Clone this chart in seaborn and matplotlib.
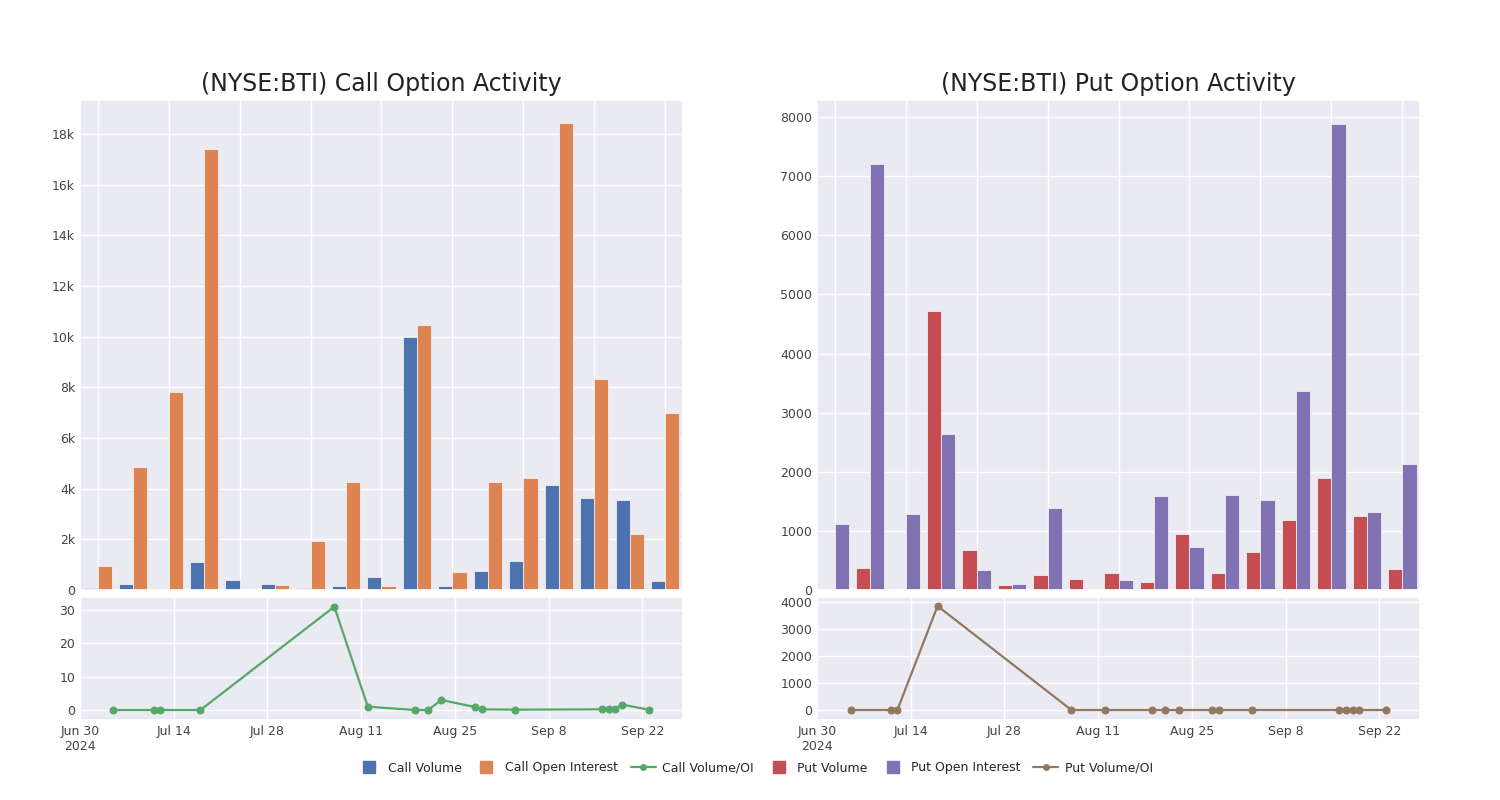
import matplotlib
matplotlib.use("Agg")
import matplotlib.pyplot as plt
from matplotlib.lines import Line2D
from matplotlib.ticker import FuncFormatter
import pandas as pd
import seaborn as sns

# 17 trading days shown in both panels
dates = ["2024-07-05", "2024-07-11", "2024-07-12", "2024-07-18", "2024-08-07",
         "2024-08-12", "2024-08-19", "2024-08-21", "2024-08-23", "2024-08-28",
         "2024-08-29", "2024-09-03", "2024-09-16", "2024-09-17", "2024-09-18",
         "2024-09-19", "2024-09-23"]

call_volume = [80, 250, 20, 1100, 380, 220, 90, 160, 500, 10000,
               170, 750, 1150, 4150, 3650, 3550, 370]
call_oi = [950, 4870, 7820, 17420, 20, 200, 1930, 4270, 150, 10460,
           720, 4250, 4410, 18420, 8320, 2220, 6980]
call_ratio = [0, 0, 0, 0, 31, 1.0, 0, 0, 3.0, 0.9, 0.2, 0.1, 0.2, 0.2, 0.4, 1.6, 0.1]

put_volume = [20, 380, 0, 4720, 680, 80, 250, 190, 290, 140,
              940, 290, 650, 1180, 1900, 1260, 350]
put_oi = [1120, 7210, 1280, 2640, 340, 100, 1390, 20, 170, 1590,
          730, 1600, 1530, 3360, 7890, 1320, 2140]
put_ratio = [0, 0, 0, 3850, 0, 0, 0, 0, 0, 0, 0, 0, 0, 0, 0, 0, 0]

date_ticks = ["2024-06-30", "2024-07-14", "2024-07-28", "2024-08-11",
              "2024-08-25", "2024-09-08", "2024-09-22"]
date_tick_labels = ["Jun 30\n2024", "Jul 14", "Jul 28", "Aug 11", "Aug 25", "Sep 8", "Sep 22"]

C_VOL, C_OI, C_RATIO = "#4C72B0", "#DD8452", "#55A868"
P_VOL, P_OI, P_RATIO = "#C44E52", "#8172B3", "#937860"

sns.set_theme(style="darkgrid")
plt.rcParams["font.family"] = ["DejaVu Sans"]

fig = plt.figure(figsize=(15, 8), dpi=100)


def bar_panel(left, vol, oi, labels, colors, ymax, yticks, title, kfmt):
    ax = fig.add_axes([left, 0.2625, 0.402, 0.6125])
    n = len(dates)
    df = pd.DataFrame({
        "day": [str(i) for i in range(n)] * 2,
        "value": vol + oi,
        "series": [labels[0]] * n + [labels[1]] * n,
    })
    sns.barplot(data=df, x="day", y="value", hue="series", palette=colors, saturation=1,
                width=0.8, edgecolor="#f4eeee", linewidth=0.6, ax=ax, legend=False)
    ax.set_xlim(-0.5, n - 0.5)
    ax.set_ylim(0, ymax)
    ax.set_yticks(yticks)
    ax.set_xticks(range(0, n, 2))
    ax.set_xticklabels([])
    ax.xaxis.grid(True)
    ax.yaxis.grid(True)
    ax.set_axisbelow(True)
    ax.tick_params(axis="x", length=0)
    ax.set_xlabel("")
    ax.set_ylabel("")
    ax.tick_params(axis="y", labelsize=9, colors="#444444", length=0)
    if kfmt:
        ax.yaxis.set_major_formatter(FuncFormatter(lambda v, _: f"{int(v / 1000)}k" if v else "0"))
    fig.text(left + 0.201, 1 - 84 / 800, title, ha="center", va="center",
             fontsize=17, color="#222222")
    return ax


def ratio_panel(left, ratio, color, ylim, yticks):
    ax = fig.add_axes([left, 0.1, 0.402, 0.15375])
    sns.lineplot(x=pd.to_datetime(dates), y=ratio, color=color, marker="o",
                 markersize=5, markeredgecolor=color, linewidth=1.6, ax=ax)
    ax.set_xlim(pd.Timestamp("2024-06-30"), pd.Timestamp("2024-09-28 02:00"))
    ax.set_ylim(*ylim)
    ax.set_yticks(yticks)
    ax.set_xticks(pd.to_datetime(date_ticks))
    ax.set_xticklabels(date_tick_labels)
    ax.set_xlabel("")
    ax.set_ylabel("")
    ax.tick_params(labelsize=9, colors="#444444", length=0)
    return ax


bar_panel(0.0533, call_volume, call_oi, ["Call Volume", "Call Open Interest"],
          [C_VOL, C_OI], 19340, range(0, 18001, 2000), "(NYSE:BTI) Call Option Activity", True)
bar_panel(0.5447, put_volume, put_oi, ["Put Volume", "Put Open Interest"],
          [P_VOL, P_OI], 8290, range(0, 8001, 1000), "(NYSE:BTI) Put Option Activity", False)
ratio_panel(0.0533, call_ratio, C_RATIO, (-3, 33.9), [0, 10, 20, 30])
ratio_panel(0.5447, put_ratio, P_RATIO, (-370, 4185), [0, 1000, 2000, 3000, 4000])

handles = [
    Line2D([], [], marker="s", linestyle="none", color=C_VOL, markersize=8, label="Call Volume"),
    Line2D([], [], marker="s", linestyle="none", color=C_OI, markersize=8, label="Call Open Interest"),
    Line2D([], [], marker="o", color=C_RATIO, markersize=4, linewidth=1.6, label="Call Volume/OI"),
    Line2D([], [], marker="s", linestyle="none", color=P_VOL, markersize=8, label="Put Volume"),
    Line2D([], [], marker="s", linestyle="none", color=P_OI, markersize=8, label="Put Open Interest"),
    Line2D([], [], marker="o", color=P_RATIO, markersize=4, linewidth=1.6, label="Put Volume/OI"),
]
fig.legend(handles=handles, loc="center", bbox_to_anchor=(0.503, 1 - 768 / 800), ncol=6,
           frameon=False, fontsize=9, handlelength=2, columnspacing=1.0, handletextpad=0.5)

fig.savefig("out.png", dpi=100)
